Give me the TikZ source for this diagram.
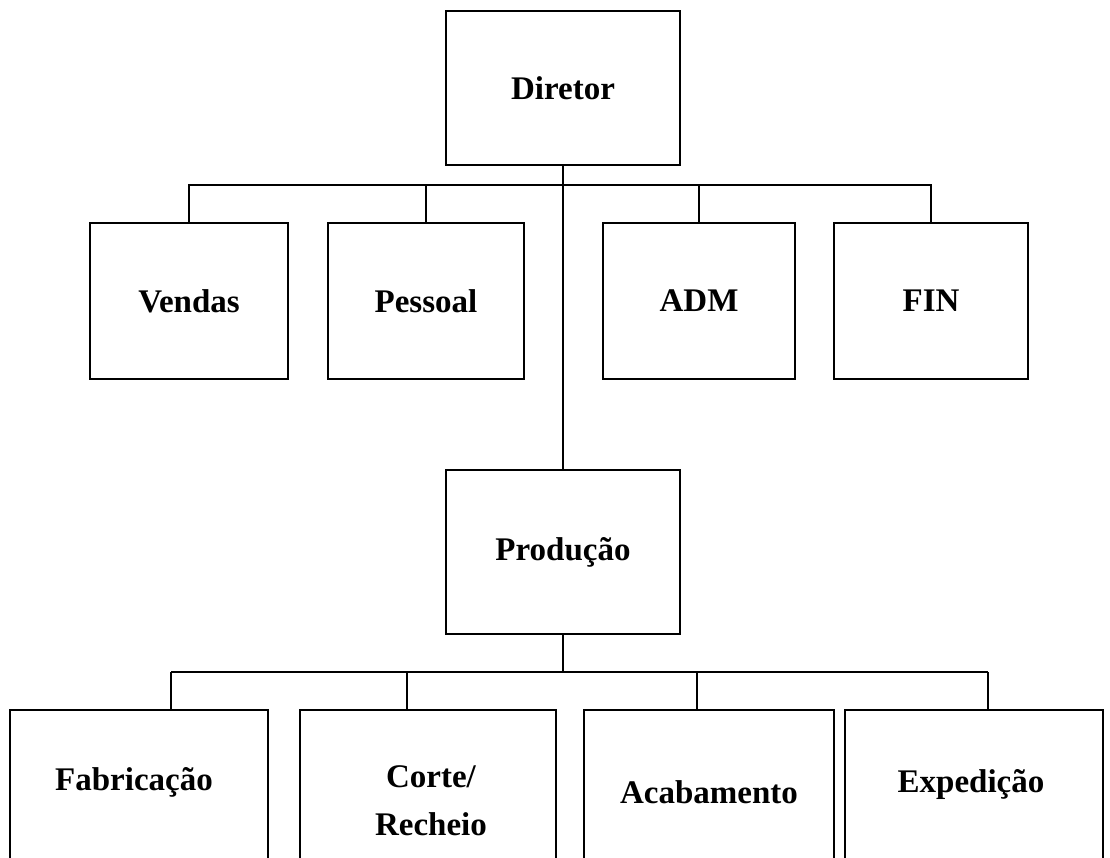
\documentclass[tikz,border=0pt]{standalone}
\usepackage{fontspec}
\setmainfont{Liberation Serif}
\begin{document}
\begin{tikzpicture}[x=1pt,y=-1pt,
  box/.style={draw, line width=2.6pt, inner sep=0pt, align=center,
    font=\fontsize{33}{48}\selectfont\bfseries},
  label/.style={inner sep=0pt, align=center,
    font=\fontsize{33}{48}\selectfont\bfseries},
  link/.style={line width=2.6pt}]
\useasboundingbox (0,0) rectangle (1110,858);
\clip (0,0) rectangle (1110,858);

% director
\node[box, minimum width=234pt, minimum height=154pt] (dir) at (563,88) {Diretor};

% first level
\node[box, minimum width=198pt, minimum height=156pt] (vendas)  at (189,301) {Vendas};
\node[box, minimum width=196pt, minimum height=156pt] (pessoal) at (426,301) {Pessoal};
\node[box, minimum width=192pt, minimum height=156pt] (adm)     at (699,301) {ADM};
\node[box, minimum width=194pt, minimum height=156pt] (fin)     at (931,301) {FIN};

% production
\node[box, minimum width=234pt, minimum height=164pt] (prod) at (563,552) {Produção};

% production sections (open at the lower edge)
\node[box, minimum width=258pt, minimum height=190pt] (fab)   at (139,805) {};
\node[box, minimum width=256pt, minimum height=190pt] (corte) at (428,805) {};
\node[box, minimum width=250pt, minimum height=190pt] (acab)  at (709,805) {};
\node[box, minimum width=258pt, minimum height=190pt] (exped) at (974,805) {};
\node[label] (fabT)   at (134,782) {Fabricação};
\node[label] (corteT) at (431,801) {Corte/\\Recheio};
\node[label] (acabT)  at (709,792) {Acabamento};
\node[label] (expedT) at (971,785) {Expedição};

% upper bus
\coordinate (busT) at (563,185);
\draw[link] (dir.south) -- (dir.south |- prod.north);
\draw[link] (vendas.north) -- (vendas.north |- busT) -| (fin.north);
\draw[link] (pessoal.north) -- (pessoal.north |- busT);
\draw[link] (adm.north) -- (adm.north |- busT);

% lower bus
\coordinate (b1) at (171,672);
\coordinate (b2) at (407,672);
\coordinate (b3) at (697,672);
\coordinate (b4) at (988,672);
\draw[link] (prod.south) -- (prod.south |- b1);
\draw[link] (b1) -- (b4);
\draw[link] (b1) -- (b1 |- fab.north);
\draw[link] (b2) -- (b2 |- corte.north);
\draw[link] (b3) -- (b3 |- acab.north);
\draw[link] (b4) -- (b4 |- exped.north);
\end{tikzpicture}
\end{document}
